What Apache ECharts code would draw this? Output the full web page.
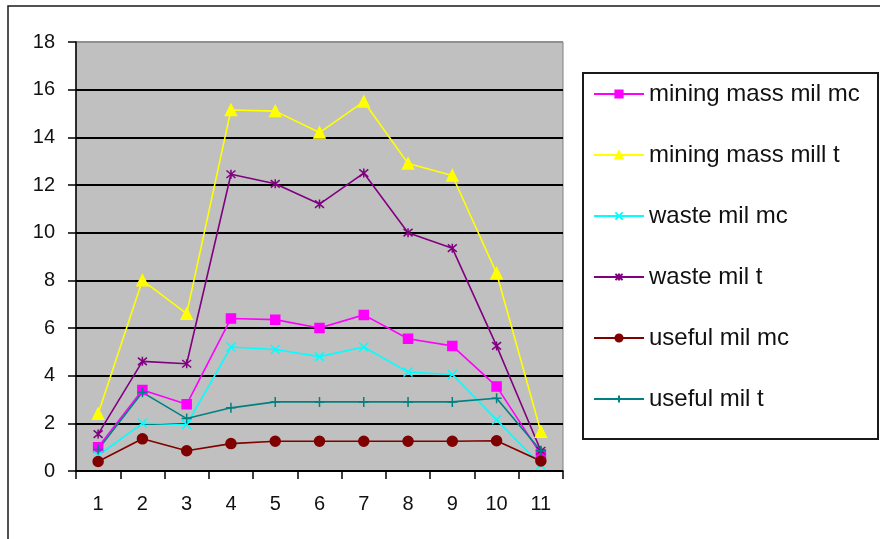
<!DOCTYPE html>
<html>
<head>
<meta charset="utf-8">
<script src="https://cdn.jsdelivr.net/npm/echarts@6/dist/echarts.min.js"></script>
<style>
  html, body { margin: 0; padding: 0; background: #fff; }
  #chart { width: 880px; height: 539px; }
</style>
</head>
<body>
<div id="chart"></div>
<script>
// Periods 1..11
const categories = ['1', '2', '3', '4', '5', '6', '7', '8', '9', '10', '11'];

// Production series (millions)
const miningMassMc = [1.0, 3.4, 2.8, 6.4, 6.35, 6.0, 6.55, 5.55, 5.25, 3.55, 0.7];
const miningMassT  = [2.4, 8.0, 6.6, 15.15, 15.1, 14.2, 15.5, 12.9, 12.4, 8.3, 1.65];
const wasteMc      = [0.65, 2.0, 1.95, 5.2, 5.1, 4.8, 5.2, 4.15, 4.05, 2.15, 0.25];
const wasteT       = [1.55, 4.6, 4.5, 12.45, 12.05, 11.2, 12.5, 10.0, 9.35, 5.25, 0.85];
const usefulMc     = [0.4, 1.35, 0.85, 1.15, 1.25, 1.25, 1.25, 1.25, 1.25, 1.27, 0.42];
const usefulT      = [0.9, 3.3, 2.2, 2.65, 2.9, 2.9, 2.9, 2.9, 2.9, 3.05, 0.85];

const seriesNames = ['mining mass mil mc', 'mining mass mill t', 'waste mil mc', 'waste mil t', 'useful mil mc', 'useful mil t'];

const FONT = "'Liberation Sans', Arial, sans-serif";

function lineSeries(name, data, color, symbol, size) {
  return {
    name: name,
    type: 'line',
    data: data,
    symbol: symbol,
    symbolSize: size,
    showAllSymbol: true,
    lineStyle: { color: color, width: 1.6 },
    itemStyle: { color: color, borderColor: color, borderWidth: 1.5 },
    emphasis: { disabled: true },
    animation: false
  };
}

const cross = 'path://M0,0L10,10M10,0L0,10';
const star = 'path://M0,0L10,10M10,0L0,10M5,-1L5,11';
const plus = 'path://M0,5L10,5M5,0L5,10';

const chart = echarts.init(document.getElementById('chart'), null, { renderer: 'canvas' });
chart.setOption({
  animation: false,
  textStyle: { fontFamily: FONT },
  graphic: [
    {
      type: 'rect', z: -10, silent: true,
      shape: { x: 8, y: 6, width: 900, height: 600 },
      style: { fill: 'none', stroke: '#1a1a1a', lineWidth: 1.5 }
    },
    {
      type: 'rect', z: 0, silent: true,
      shape: { x: 583, y: 73, width: 295, height: 366 },
      style: { fill: '#fff', stroke: '#1a1a1a', lineWidth: 2 }
    }
  ],
  grid: {
    left: 76, right: 317, top: 42, bottom: 68,
    show: true, backgroundColor: '#c0c0c0', borderColor: '#808080', borderWidth: 1
  },
  legend: {
    orient: 'vertical',
    left: 593, top: 82,
    padding: 0,
    itemWidth: 50, itemHeight: 9,
    itemGap: 37,
    z: 5,
    data: seriesNames,
    textStyle: { fontFamily: FONT, fontSize: 24, lineHeight: 24, color: '#111' }
  },
  xAxis: {
    type: 'category',
    data: categories,
    boundaryGap: true,
    axisLine: { lineStyle: { color: '#000', width: 1.5 } },
    axisTick: { show: true, length: 8, lineStyle: { color: '#000', width: 1.5 } },
    axisLabel: { fontFamily: FONT, fontSize: 20, color: '#111', margin: 23 },
    splitLine: { show: false }
  },
  yAxis: {
    type: 'value',
    min: 0, max: 18, interval: 2,
    axisLine: { show: true, lineStyle: { color: '#000', width: 1.5 } },
    axisTick: { show: true, length: 8, lineStyle: { color: '#000', width: 1.5 } },
    axisLabel: { fontFamily: FONT, fontSize: 20, color: '#111', margin: 21 },
    splitLine: {
      show: true,
      lineStyle: {
        color: ['#000', '#000', '#000', '#000', '#000', '#000', '#000', '#000', '#000', '#909090'],
        width: 1.8
      }
    }
  },
  series: [
    lineSeries(seriesNames[0], miningMassMc, '#ff00ff', 'rect', 9),
    lineSeries(seriesNames[1], miningMassT, '#ffff00', 'triangle', 11),
    lineSeries(seriesNames[2], wasteMc, '#00ffff', cross, 9),
    lineSeries(seriesNames[3], wasteT, '#800080', star, 9),
    lineSeries(seriesNames[4], usefulMc, '#800000', 'circle', 10),
    lineSeries(seriesNames[5], usefulT, '#008080', plus, 10)
  ]
});
</script>
</body>
</html>
